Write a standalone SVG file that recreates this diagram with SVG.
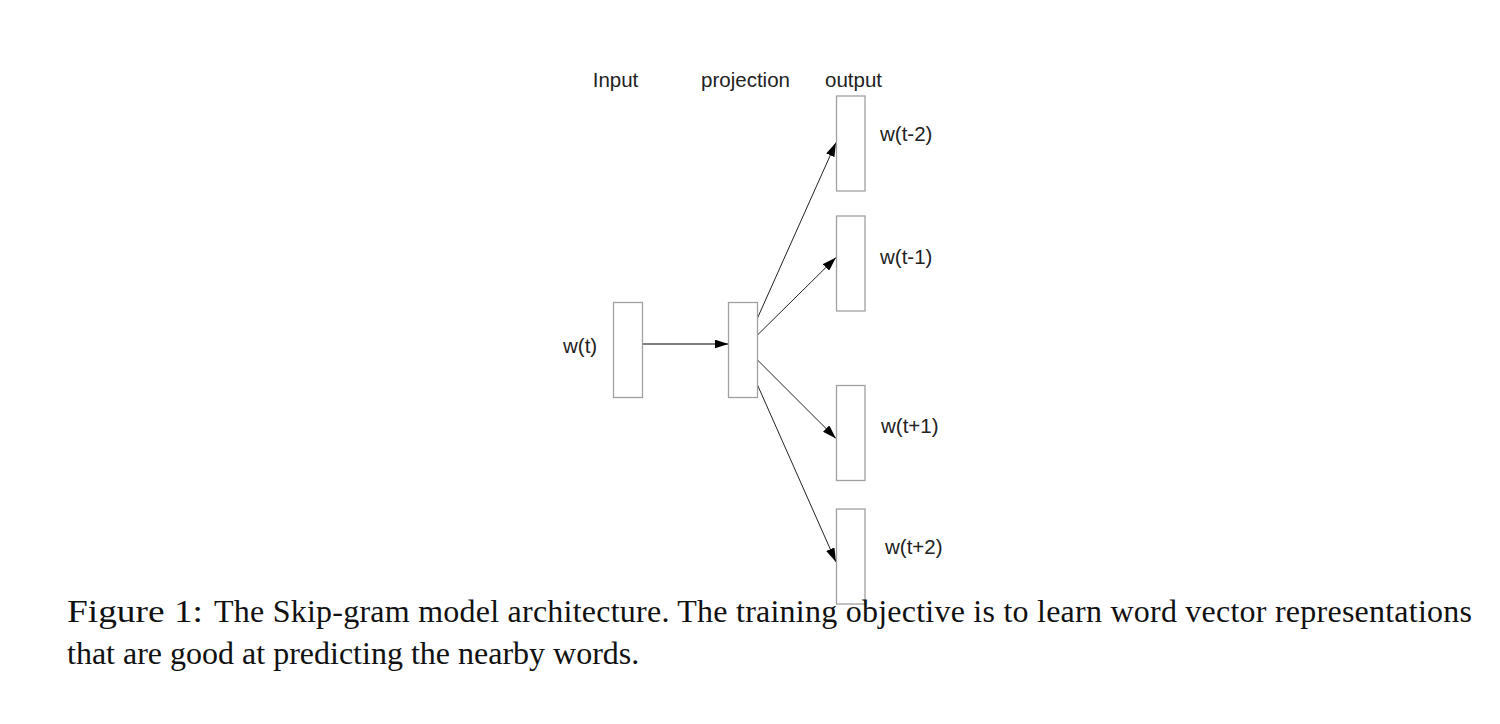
<svg xmlns="http://www.w3.org/2000/svg" width="1500" height="724" viewBox="0 0 1500 724">
  <style>
    .box { fill: #ffffff; stroke: #a0a0a0; stroke-width: 1.3; }
    .lbl { font-family: "Liberation Sans", Arial, sans-serif; font-size: 20.5px; fill: #222222; }
    .edge { stroke: #222222; stroke-width: 1; fill: none; marker-end: url(#arrow); }
    .cap { font-family: "Liberation Serif", "Times New Roman", serif; font-size: 32px; fill: #111111; }
  </style>
  <defs>
    <marker id="arrow" markerUnits="userSpaceOnUse" markerWidth="14" markerHeight="9" refX="14" refY="4.5" orient="auto">
      <path d="M0,0 L14,4.5 L0,9 z" fill="#000000"/>
    </marker>
  </defs>
  <rect width="1500" height="724" fill="#ffffff"/>

  <g id="headers">
    <text class="lbl" x="615.5" y="87" text-anchor="middle">Input</text>
    <text class="lbl" x="745.5" y="87" text-anchor="middle">projection</text>
    <text class="lbl" x="853.5" y="87" text-anchor="middle">output</text>
  </g>

  <g id="connectors">
    <line class="edge" x1="642.5" y1="344" x2="728.5" y2="344" style="stroke:#555555;stroke-width:1.3"/>
    <line class="edge" x1="757.5" y1="318" x2="836" y2="142.5"/>
    <line class="edge" x1="757.5" y1="335" x2="836" y2="257.5"/>
    <line class="edge" x1="757.5" y1="360" x2="836" y2="438.5"/>
    <line class="edge" x1="757.5" y1="385" x2="836" y2="562"/>
  </g>

  <g id="node-input">
    <rect class="box" x="613.5" y="302.5" width="29" height="95"/>
    <text class="lbl" x="563" y="353">w(t)</text>
  </g>
  <g id="node-projection">
    <rect class="box" x="728.5" y="302.5" width="29" height="95"/>
  </g>
  <g id="node-out-t-2">
    <rect class="box" x="836.5" y="96" width="28.5" height="95"/>
    <text class="lbl" x="880" y="141">w(t-2)</text>
  </g>
  <g id="node-out-t-1">
    <rect class="box" x="836.5" y="216" width="28.5" height="95"/>
    <text class="lbl" x="880" y="264">w(t-1)</text>
  </g>
  <g id="node-out-t+1">
    <rect class="box" x="836.5" y="385.5" width="28.5" height="95"/>
    <text class="lbl" x="881" y="433">w(t+1)</text>
  </g>
  <g id="node-out-t+2">
    <rect class="box" x="836.5" y="509" width="28.5" height="95"/>
    <text class="lbl" x="885" y="554">w(t+2)</text>
  </g>

  <g id="caption">
    <text class="cap" x="67" y="622" textLength="136" lengthAdjust="spacingAndGlyphs">Figure 1:</text>
    <text class="cap" x="214" y="622" textLength="1258" lengthAdjust="spacing">The Skip-gram model architecture. The training objective is to learn word vector representations</text>
    <text class="cap" x="67" y="664">that are good at predicting the nearby words.</text>
  </g>
</svg>
